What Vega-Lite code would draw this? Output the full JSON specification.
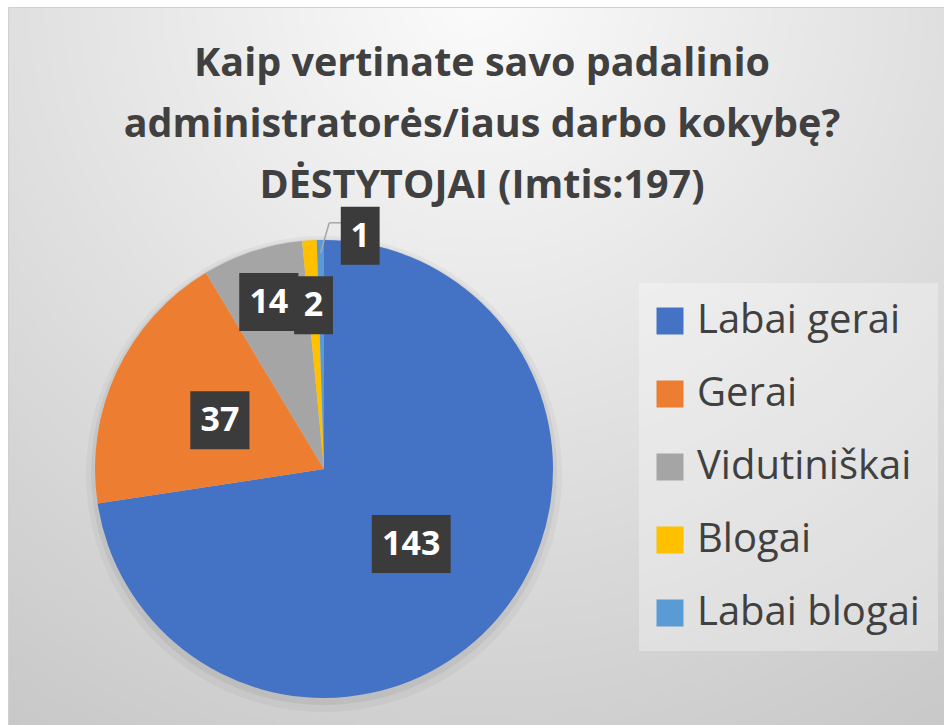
{
  "$schema": "https://vega.github.io/schema/vega-lite/v6.json",
  "autosize": {"type": "fit", "contains": "padding"},
  "width": 944,
  "height": 725,
  "padding": {"left": 8, "top": 7, "right": 0, "bottom": 0},
  "background": "white",
  "config": {
    "view": {
      "fill": {"gradient": "radial", "x1": 0.5, "y1": 0.1, "r1": 0, "x2": 0.5, "y2": 0.1, "r2": 1,
        "stops": [{"offset": 0, "color": "#fbfbfb"}, {"offset": 0.45, "color": "#e2e2e2"}, {"offset": 1, "color": "#c4c4c4"}]},
      "stroke": "#d0d0d0"
    }
  },
  "title": {
    "text": ["Kaip vertinate savo padalinio", "administratorės/iaus darbo kokybę?", "DĖSTYTOJAI (Imtis:197)"],
    "font": "Open Sans",
    "fontWeight": "bold",
    "fontSize": 39.5,
    "lineHeight": 61,
    "color": "#404040",
    "anchor": "middle",
    "frame": "group",
    "offset": -199,
    "dx": 6
  },
  "data": {
    "values": [
      {"Vertinimas": "Labai gerai", "Count": 143},
      {"Vertinimas": "Gerai", "Count": 37},
      {"Vertinimas": "Vidutiniškai", "Count": 14},
      {"Vertinimas": "Blogai", "Count": 2},
      {"Vertinimas": "Labai blogai", "Count": 1}
    ]
  },
  "transform": [
    {"window": [{"op": "row_number", "as": "idx"}]},
    {"window": [{"op": "sum", "field": "Count", "as": "cum"}], "sort": [{"field": "idx"}], "frame": [null, 0]},
    {"joinaggregate": [{"op": "sum", "field": "Count", "as": "total"}]},
    {"calculate": "2*PI*(datum.cum - datum.Count/2)/datum.total", "as": "mid"},
    {"calculate": "datum.Count >= 20 ? 115 : datum.Count >= 10 ? 176 : datum.Count >= 2 ? 164 : 236", "as": "lr"},
    {"calculate": "datum.Count == 1 ? datum.mid + 0.17 : datum.mid", "as": "la"},
    {"calculate": "datum.lr*sin(datum.la)", "as": "lx"},
    {"calculate": "datum.lr*cos(datum.la)", "as": "ly"},
    {"calculate": "216*sin(datum.mid)", "as": "ex"},
    {"calculate": "216*cos(datum.mid)", "as": "ey"},
    {"calculate": "datum.lx - 31", "as": "bx"},
    {"calculate": "datum.ly + 13", "as": "by"},
    {"calculate": "datum.lx - 19", "as": "cx"},
    {"calculate": "toString(length(toString(datum.Count)))", "as": "digits"}
  ],
  "layer": [
    {
      "mark": {"type": "arc", "outerRadius": 238, "color": "black", "opacity": 0.035, "stroke": null},
      "encoding": {
        "x": {"datum": 0, "type": "quantitative", "scale": {"domain": [-316, 620], "nice": false, "zero": false}, "axis": null},
        "y": {"datum": -5, "type": "quantitative", "scale": {"domain": [-256, 462], "nice": false, "zero": false}, "axis": null},
        "theta": {"field": "Count", "type": "quantitative", "stack": true},
        "order": {"field": "idx", "type": "quantitative"}
      }
    },
    {
      "mark": {"type": "arc", "outerRadius": 233, "color": "black", "opacity": 0.05, "stroke": null},
      "encoding": {
        "x": {"datum": 0, "type": "quantitative", "scale": {"domain": [-316, 620], "nice": false, "zero": false}, "axis": null},
        "y": {"datum": -3, "type": "quantitative", "scale": {"domain": [-256, 462], "nice": false, "zero": false}, "axis": null},
        "theta": {"field": "Count", "type": "quantitative", "stack": true},
        "order": {"field": "idx", "type": "quantitative"}
      }
    },
    {
      "mark": {"type": "arc", "outerRadius": 229, "stroke": null},
      "encoding": {
        "x": {"datum": 0, "type": "quantitative", "scale": {"domain": [-316, 620], "nice": false, "zero": false}, "axis": null},
        "y": {"datum": 0, "type": "quantitative", "scale": {"domain": [-256, 462], "nice": false, "zero": false}, "axis": null},
        "theta": {"field": "Count", "type": "quantitative", "stack": true},
        "order": {"field": "idx", "type": "quantitative"},
        "color": {
          "field": "Vertinimas",
          "type": "nominal",
          "scale": {
            "domain": ["Labai gerai", "Gerai", "Vidutiniškai", "Blogai", "Labai blogai"],
            "range": ["#4472C4", "#ED7D31", "#A5A5A5", "#FFC000", "#5B9BD5"]
          },
          "legend": {
            "orient": "none",
            "legendX": 631,
            "legendY": 276,
            "title": null,
            "fillColor": "rgba(255,255,255,0.3)",
            "padding": 18,
            "labelFont": "Open Sans",
            "labelFontSize": 40,
            "labelColor": "#404040",
            "labelOffset": 7,
            "labelLimit": 400,
            "symbolType": "square",
            "symbolSize": 729,
            "symbolOffset": -7,
            "symbolStrokeWidth": 0,
            "symbolOpacity": 1,
            "rowPadding": 33
          }
        }
      }
    },
    {
      "transform": [{"filter": "datum.Count == 1"}],
      "mark": {"type": "rule", "color": "#a6a6a6", "strokeWidth": 1.5},
      "encoding": {
        "x": {"field": "ex", "type": "quantitative", "scale": {"domain": [-316, 620], "nice": false, "zero": false}, "axis": null},
        "y": {"field": "ey", "type": "quantitative", "scale": {"domain": [-256, 462], "nice": false, "zero": false}, "axis": null},
        "x2": {"field": "bx"},
        "y2": {"field": "by"}
      }
    },
    {
      "transform": [{"filter": "datum.Count == 1"}],
      "mark": {"type": "rule", "color": "#a6a6a6", "strokeWidth": 1.5},
      "encoding": {
        "x": {"field": "bx", "type": "quantitative", "scale": {"domain": [-316, 620], "nice": false, "zero": false}, "axis": null},
        "y": {"field": "by", "type": "quantitative", "scale": {"domain": [-256, 462], "nice": false, "zero": false}, "axis": null},
        "x2": {"field": "cx"},
        "y2": {"field": "by"}
      }
    },
    {
      "mark": {"type": "point", "filled": true, "opacity": 1, "color": "#3b3b3b", "size": 3364},
      "encoding": {
        "x": {"field": "lx", "type": "quantitative", "scale": {"domain": [-316, 620], "nice": false, "zero": false}, "axis": null},
        "y": {"field": "ly", "type": "quantitative", "scale": {"domain": [-256, 462], "nice": false, "zero": false}, "axis": null},
        "shape": {
          "field": "digits",
          "type": "nominal",
          "scale": {"domain": ["1", "2", "3"], "range": ["M-0.67,-1H0.67V1H-0.67Z", "M-1.02,-1H1.02V1H-1.02Z", "M-1.36,-1H1.36V1H-1.36Z"]},
          "legend": null
        }
      }
    },
    {
      "mark": {"type": "text", "font": "Open Sans", "fontWeight": "bold", "fontSize": 34, "color": "white", "align": "center", "baseline": "middle", "dy": 1},
      "encoding": {
        "x": {"field": "lx", "type": "quantitative", "scale": {"domain": [-316, 620], "nice": false, "zero": false}, "axis": null},
        "y": {"field": "ly", "type": "quantitative", "scale": {"domain": [-256, 462], "nice": false, "zero": false}, "axis": null},
        "text": {"field": "Count", "type": "quantitative"}
      }
    }
  ],
  "resolve": {"scale": {"shape": "independent"}}
}
